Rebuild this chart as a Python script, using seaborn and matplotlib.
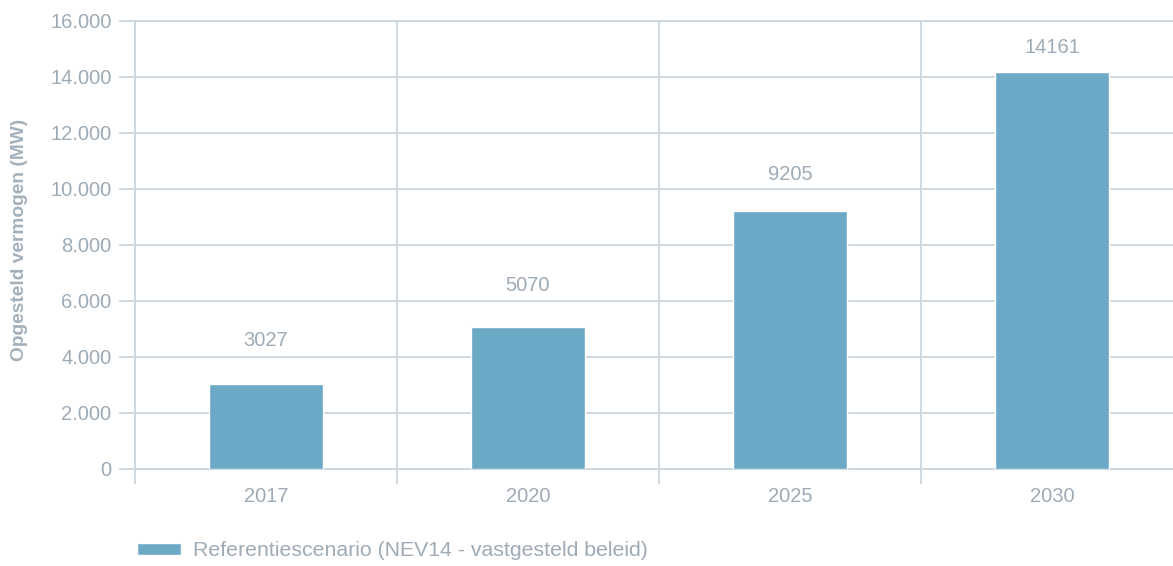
import matplotlib
matplotlib.use("Agg")
import matplotlib.pyplot as plt
import seaborn as sns
import pandas as pd
from matplotlib.ticker import FuncFormatter, FixedLocator

years = ["2017", "2020", "2025", "2030"]
values = [3027, 5070, 9205, 14161]
label_offsets_px = [44, 42, 37, 25]
series_name = "Referentiescenario (NEV14 - vastgesteld beleid)"
y_ticks = [0, 2000, 4000, 6000, 8000, 10000, 12000, 14000, 16000]
y_title = "Opgesteld vermogen (MW)"

sns.set_theme(style="white")
plt.rcParams["font.family"] = ["Liberation Sans", "DejaVu Sans"]

TEXT = "#9eabb6"
GRID = "#cbd6df"
BAR = "#6ca9c7"

W, H = 1173, 566
fig = plt.figure(figsize=(W / 100, H / 100), dpi=100)
left, right, top, bottom = 135, 1173, 21, 469
ax = fig.add_axes([left / W, 1 - bottom / H, (right - left) / W, (bottom - top) / H])

df = pd.DataFrame({"year": years, "value": values})
sns.barplot(data=df, x="year", y="value", color=BAR, width=0.435, ax=ax,
            saturation=1, label=series_name, zorder=3)

cat_w = 262
ax.set_xlim(-0.5, -0.5 + (right - left) / cat_w)
ax.set_ylim(0, 16000)

for s in ax.spines.values():
    s.set_visible(False)

ax.yaxis.set_major_locator(FixedLocator(y_ticks))
ax.yaxis.set_major_formatter(FuncFormatter(lambda v, p: f"{int(v):,}".replace(",", ".")))
ax.tick_params(axis="y", which="major", length=11.5, width=1.3, color=GRID,
               labelcolor=TEXT, labelsize=14.5, pad=5.5, left=True)
ax.grid(axis="y", which="major", color=GRID, linewidth=1.3, zorder=0)

ax.set_xticks([i - 0.5 for i in range(len(years))], minor=True)
ax.tick_params(axis="x", which="minor", length=10.8, width=1.3, color=GRID, bottom=True)
ax.tick_params(axis="x", which="major", length=0, labelcolor=TEXT, labelsize=14.5, pad=13)
ax.grid(axis="x", which="minor", color=GRID, linewidth=1.3, zorder=0)
ax.grid(axis="x", which="major", visible=False)
ax.set_axisbelow(True)
ax.axhline(y_ticks[0], color=GRID, linewidth=1.3, clip_on=False, zorder=2)
ax.axhline(y_ticks[-1], color=GRID, linewidth=1.3, clip_on=False, zorder=2)
ax.axvline(-0.5, color=GRID, linewidth=1.3, clip_on=False, zorder=2)

ax.set_xlabel("")
ax.set_ylabel("")
fig.text(20 / W, 1 - 240 / H, y_title, rotation=90, ha="center", va="center",
         color="#a3b1bc", fontsize=13.8, fontweight="bold")

for i, (v, off) in enumerate(zip(values, label_offsets_px)):
    ax.annotate(str(v), xy=(i, v), xytext=(0, off * 0.72), textcoords="offset points",
                ha="center", va="center", color=TEXT, fontsize=14.5)

fs = 15.3
fs_px = fs / 0.72
leg = ax.legend(loc="center left", bbox_to_anchor=(137 / W, 1 - 551 / H),
                bbox_transform=fig.transFigure, frameon=False, fontsize=fs,
                handlelength=44 / fs_px, handleheight=11 / fs_px, handletextpad=12 / fs_px,
                borderpad=0, borderaxespad=0)
for t in leg.get_texts():
    t.set_color(TEXT)

fig.savefig("out.png", dpi=100)
